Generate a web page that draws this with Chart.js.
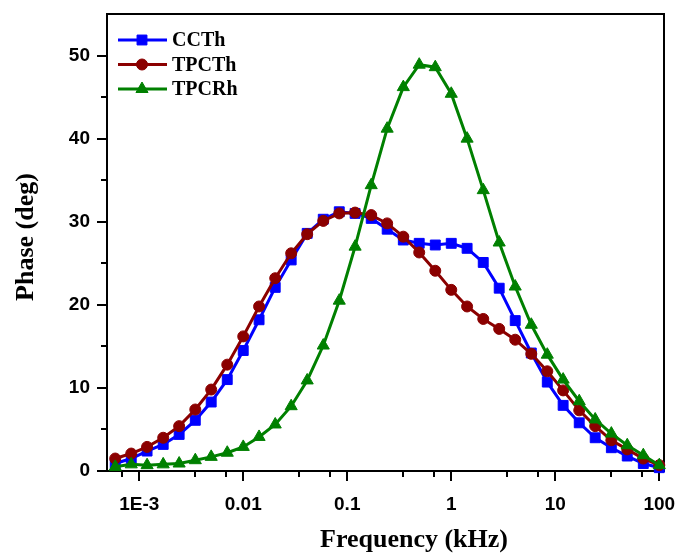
<!DOCTYPE html>
<html>
<head>
<meta charset="utf-8">
<script src="https://cdn.jsdelivr.net/npm/chart.js@4"></script>
<style>
  body { margin: 0; background: #fff; }
  canvas { display: block; }
</style>
</head>
<body>
<canvas id="phaseChart" width="681" height="557"></canvas>
<script>
// frekuensi (kHz), dari rendah ke tinggi
const freqKHz = [
  0.000588, 0.000838, 0.00119, 0.0017, 0.00242, 0.00346, 0.00492, 0.00702,
  0.01, 0.0142, 0.0203, 0.0289, 0.0412, 0.0588, 0.0838, 0.119, 0.17,
  0.242, 0.346, 0.492, 0.702, 1, 1.42, 2.03, 2.89, 4.12, 5.88, 8.38,
  11.9, 17, 24.2, 34.6, 49.2, 70.2, 100,
];
const ccth = [
  0.9, 1.5, 2.4, 3.2, 4.4, 6.1, 8.3, 11.0, 14.5, 18.2, 22.1, 25.4, 28.6,
  30.3, 31.2, 31.0, 30.4, 29.1, 27.8, 27.4, 27.2, 27.4, 26.8, 25.1, 22.0,
  18.1, 14.2, 10.7, 7.9, 5.8, 4.0, 2.8, 1.8, 0.9, 0.4,
];
const tpcth = [
  1.5, 2.1, 2.9, 4.0, 5.4, 7.4, 9.8, 12.8, 16.2, 19.8, 23.2, 26.2, 28.5,
  30.1, 31.0, 31.1, 30.8, 29.8, 28.2, 26.3, 24.1, 21.8, 19.8, 18.3, 17.1,
  15.8, 14.1, 12.0, 9.7, 7.3, 5.4, 3.7, 2.6, 1.5, 0.7,
];
const tpcrh = [
  0.5, 0.8, 0.7, 0.8, 0.9, 1.3, 1.7, 2.2, 2.9, 4.1, 5.6, 7.8, 10.9, 15.1,
  20.5, 27.0, 34.4, 41.2, 46.2, 48.9, 48.6, 45.4, 40.0, 33.8, 27.5, 22.2,
  17.6, 14.0, 11.0, 8.4, 6.2, 4.5, 3.1, 1.9, 0.7,
];

const xTickValues = [0.001, 0.01, 0.1, 1, 10, 100];
const xTickLabels = ["1E-3", "0.01", "0.1", "1", "10", "100"];
const xMinorValues = [6.8e-4, 3.4e-3, 6.8e-3, 0.034, 0.068, 0.34, 0.68, 3.4, 6.8, 34, 68];
const yTickValues = [0, 10, 20, 30, 40, 50];
const yMinorValues = [5, 15, 25, 35, 45];

const seriesInfo = [
  { label: "CCTh", data: ccth, color: "#0000ff", style: "rect", radius: 7 },
  { label: "TPCTh", data: tpcth, color: "#8b0000", style: "circle", radius: 5.5 },
  { label: "TPCRh", data: tpcrh, color: "#008000", style: "triangle", radius: 7 },
];

const serif = "'Liberation Serif', 'Times New Roman', serif";
const sans = "'Liberation Sans', Arial, sans-serif";

// bingkai + tick manual (mayor & minor)
const framePlugin = {
  id: "framePlugin",
  beforeDatasetsDraw(chart) {
    const { ctx, chartArea: a, scales } = chart;
    ctx.save();
    ctx.strokeStyle = "#000";
    ctx.lineWidth = 2;
    ctx.strokeRect(a.left, a.top, a.right - a.left, a.bottom - a.top);
    ctx.beginPath();
    xTickValues.forEach((v) => {
      const px = Math.round(scales.x.getPixelForValue(v));
      ctx.moveTo(px, a.bottom);
      ctx.lineTo(px, a.bottom + 10);
    });
    xMinorValues.forEach((v) => {
      const px = Math.round(scales.x.getPixelForValue(v));
      ctx.moveTo(px, a.bottom);
      ctx.lineTo(px, a.bottom + 6);
    });
    yTickValues.forEach((v) => {
      const py = Math.round(scales.y.getPixelForValue(v));
      ctx.moveTo(a.left, py);
      ctx.lineTo(a.left - 10, py);
    });
    yMinorValues.forEach((v) => {
      const py = Math.round(scales.y.getPixelForValue(v));
      ctx.moveTo(a.left, py);
      ctx.lineTo(a.left - 6, py);
    });
    ctx.stroke();
    ctx.restore();
  },
  afterDraw(chart) {
    const { ctx } = chart;
    ctx.save();
    ctx.fillStyle = "#000";
    ctx.font = "bold 26px " + serif;
    ctx.textAlign = "center";
    ctx.textBaseline = "middle";
    ctx.fillText("Frequency (kHz)", 414, 540);
    ctx.translate(26, 237);
    ctx.rotate(-Math.PI / 2);
    ctx.fillText("Phase (deg)", 0, 0);
    ctx.restore();

    // legenda di kiri atas
    ctx.save();
    seriesInfo.forEach((s, i) => {
      const y = 40 + i * 24.5;
      ctx.strokeStyle = s.color;
      ctx.fillStyle = s.color;
      ctx.lineWidth = 3;
      ctx.beginPath();
      ctx.moveTo(118, y);
      ctx.lineTo(167, y);
      ctx.stroke();
      ctx.lineWidth = 1;
      Chart.helpers.drawPoint(ctx, { pointStyle: s.style, radius: s.radius, rotation: 0, borderWidth: 1 }, 142, y);
      ctx.fillStyle = "#000";
      ctx.font = "bold 20px " + serif;
      ctx.textAlign = "left";
      ctx.textBaseline = "middle";
      ctx.fillText(s.label, 172, y + 1);
    });
    ctx.restore();
  },
};

// paksa ukuran sumbu supaya area plot pas dengan gambar asli
function fixPadding(scale) {
  scale.paddingLeft = 0;
  scale.paddingRight = 0;
  scale.paddingTop = 0;
  scale.paddingBottom = 0;
}

function loadPhaseChart() {
  const ctx = document.getElementById("phaseChart").getContext("2d");

  const datasets = seriesInfo.map((s, i) => ({
    label: s.label,
    data: freqKHz.map((f, j) => ({ x: f, y: s.data[j] })),
    borderColor: s.color,
    backgroundColor: s.color,
    borderWidth: 3,
    pointStyle: s.style,
    pointRadius: s.radius,
    pointBorderWidth: 1,
    pointBackgroundColor: s.color,
    pointBorderColor: s.color,
    tension: 0,
    clip: false,
    order: 3 - i,
  }));

  new Chart(ctx, {
    type: "line",
    data: { datasets: datasets },
    options: {
      responsive: false,
      animation: false,
      devicePixelRatio: 1,
      layout: { padding: { top: 14, right: 17, left: 0, bottom: 0 } },
      plugins: {
        legend: { display: false },
        tooltip: { enabled: false },
      },
      scales: {
        x: {
          type: "logarithmic",
          min: 4.9e-4,
          max: 111,
          grid: { display: false, drawTicks: false },
          border: { display: false },
          afterBuildTicks: (scale) => {
            scale.ticks = xTickValues.map((v) => ({ value: v }));
          },
          afterFit: (scale) => {
            scale.height = 86;
            fixPadding(scale);
          },
          ticks: {
            autoSkip: false,
            maxRotation: 0,
            padding: 22,
            color: "#000",
            font: { family: sans, size: 19, weight: "bold" },
            callback: (value) => {
              const idx = xTickValues.findIndex((v) => Math.abs(Math.log10(v) - Math.log10(value)) < 1e-6);
              return idx >= 0 ? xTickLabels[idx] : "";
            },
          },
        },
        y: {
          min: 0,
          max: 55,
          grid: { display: false, drawTicks: false },
          border: { display: false },
          afterBuildTicks: (scale) => {
            scale.ticks = yTickValues.map((v) => ({ value: v }));
          },
          afterFit: (scale) => {
            scale.width = 107;
            fixPadding(scale);
          },
          ticks: {
            padding: 17,
            color: "#000",
            font: { family: sans, size: 19, weight: "bold" },
          },
        },
      },
    },
    plugins: [framePlugin],
  });
}

window.addEventListener("DOMContentLoaded", () => {
  loadPhaseChart();
});
</script>
</body>
</html>
